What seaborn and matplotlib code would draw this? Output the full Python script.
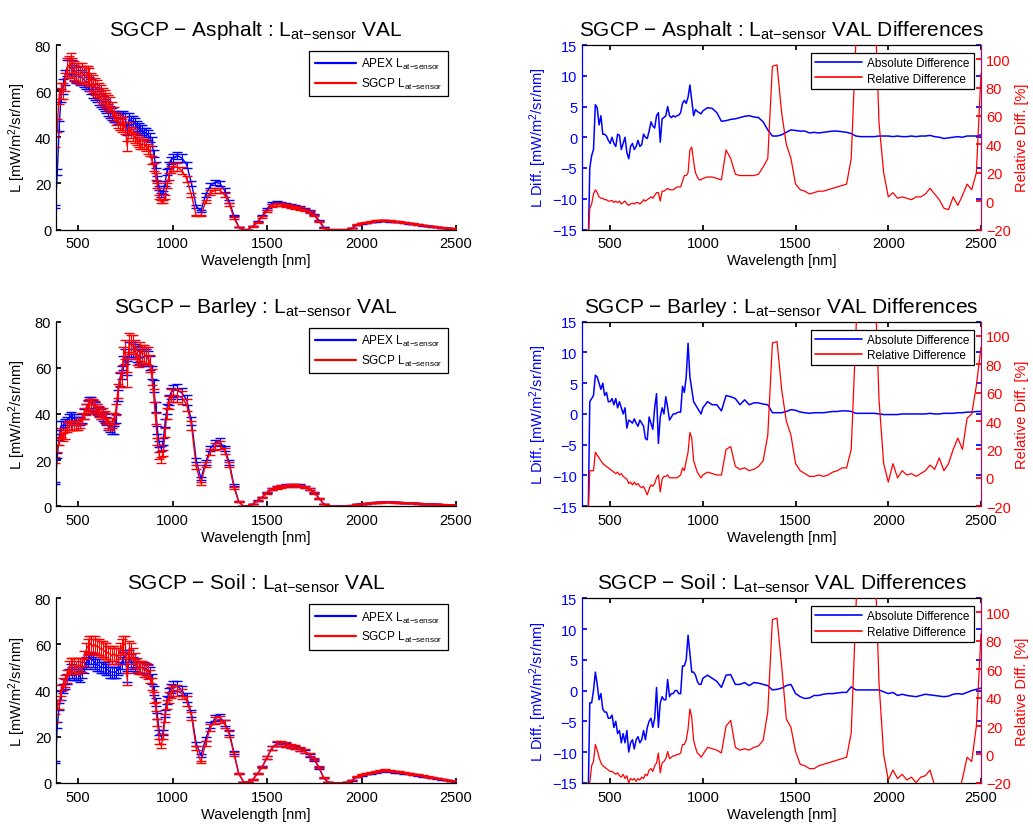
import numpy as np
import pandas as pd
import matplotlib
matplotlib.use("Agg")
import matplotlib.pyplot as plt
from matplotlib.lines import Line2D
import seaborn as sns

# ---------------- data ----------------
wavelength = [
    380, 390, 400, 410, 420, 430, 440, 450, 460, 470,
    480, 490, 500, 510, 520, 530, 540, 550, 560, 570,
    580, 590, 600, 610, 620, 630, 640, 650, 660, 670,
    680, 690, 700, 710, 720, 730, 740, 750, 760, 770,
    780, 790, 800, 810, 820, 830, 840, 850, 860, 870,
    880, 890, 900, 910, 920, 930, 940, 950, 960, 970,
    980, 990, 1000,
    1025, 1050, 1075, 1100, 1125, 1150, 1175, 1200, 1225, 1250,
    1275, 1300, 1325, 1350, 1375, 1400, 1425, 1450, 1475, 1500,
    1525, 1550, 1575, 1600, 1625, 1650, 1675, 1700, 1725, 1750,
    1775, 1800, 1825, 1850, 1875, 1900, 1925, 1950, 1975, 2000,
    2025, 2050, 2075, 2100, 2125, 2150, 2175, 2200, 2225, 2250,
    2275, 2300, 2325, 2350, 2375, 2400, 2425, 2450, 2475, 2500,
]

asphalt_apex = [
    10, 25, 45, 58, 62, 66, 70, 71, 70, 70,
    68, 67, 67, 66, 66, 65, 64, 64, 63, 62,
    60, 59, 58, 57, 56, 55, 54, 53, 52, 51,
    50, 49, 49, 48, 48, 48, 49, 48, 43, 48,
    47, 47, 46, 45, 44, 43, 43, 42, 42, 41,
    40, 38, 33, 28, 22, 18, 15, 16, 20, 25,
    28, 30, 31,
    32, 31, 28, 20, 10, 8, 15, 19, 20.5, 20,
    17, 12, 6, 1, 0, 0, 1.5, 3.5, 6, 9,
    11.5, 11.8, 11.5, 11, 10.5, 10, 9.5, 9, 8, 6.5,
    4, 1, 0, 0, 0, 0, 0, 0.5, 2, 2.5,
    2.8, 3.2, 3.5, 3.7, 3.8, 3.6, 3.4, 3.2, 3.0, 2.7,
    2.4, 2.1, 1.8, 1.5, 1.3, 1.0, 0.8, 0.6, 0.4, 0.3,
]
asphalt_sgcp = [
    38, 45, 58, 60, 60, 64, 70, 71, 72, 70,
    69, 68, 68, 67, 68, 67, 67, 67, 66, 64,
    63, 62, 61, 60, 59, 58, 57, 56, 55, 54,
    52, 50, 48, 47, 46, 45, 46, 44, 36, 44,
    42, 41, 40, 39, 38, 37, 37, 37, 36, 35,
    34, 30, 27, 23, 19, 14, 12, 12, 14, 19,
    23, 26, 27,
    27, 25.5, 22, 15, 6, 6, 12, 16, 17, 17,
    15, 11, 5, 1, 0, 0, 1.3, 3, 5.5, 8,
    10.5, 11, 10.8, 10.5, 10, 9.5, 9, 8.5, 7.5, 6,
    3.5, 0.8, 0, 0, 0, 0, 0, 0.8, 2.3, 2.8,
    3.1, 3.5, 3.8, 4.0, 4.0, 3.8, 3.6, 3.3, 3.1, 2.8,
    2.5, 2.2, 1.9, 1.6, 1.4, 1.1, 0.9, 0.7, 0.5, 0.3,
]
asphalt_abs = [
    -20, -5, -3, -2, 5.3, 4.8, 2, 3.5, 0.5, 0.5,
    0.2, -0.5, -1, 0, -1, -1.5, 0.5, 0.3, -2, -1,
    0, -2.5, -3.5, -1.5, -1, -2, -1.5, -0.5, -1.5, -1.2,
    0.5, 0, -0.2, 1, 2.5, 1.8, 1.5, 3.5, 4, -0.8,
    3, 3.2, 3.5, 5, 3.5, 3.2, 3.5, 3.3, 3.5, 3.6,
    4, 5.5, 6, 5.5, 6.5, 8.5, 6, 3.5, 4.5, 4.2,
    4, 3.8, 4.3,
    4.8, 4.7, 4, 2.6, 2.7, 2.9, 3, 3.2, 3.4, 3.5,
    3.3, 3.2, 2.5, 1.2, 0.2, 0.2, 0.4, 0.8, 1.2, 1.1,
    1.0, 1.0, 0.7, 0.8, 0.7, 0.8, 0.9, 1.0, 1.0, 0.9,
    0.8, 0.6, 0.2, 0.1, 0.1, 0.1, 0.1, 0.2, 0.2, 0.2,
    0.1, 0.2, 0.1, 0.1, 0.2, 0.1, 0.2, 0.2, 0.3, 0.1,
    0.0, -0.2, -0.1, 0.0, 0.1, 0.0, 0.2, 0.2, 0.2, 0.4,
]
asphalt_rel = [
    -30, -5, -2, 5, 8, 6, 3, 2, 2, 1,
    1, 0, 0, 0.5, -1, 0, -1, 0, -2, -1,
    0, -2, -3, -2, -1.5, -2, -1, -1, -2, -1,
    1, 0, 1, 2, 3, 2, 4, 6, 6, 0,
    7, 7, 8, 9, 8, 8, 8, 9, 10, 10,
    10, 14, 18, 18, 20, 36, 38, 28, 20, 17,
    15, 15, 16,
    17, 17, 16, 15, 36, 30, 19, 18, 18, 18,
    18, 19, 24, 30, 95, 96, 62, 40, 30, 12,
    8, 7, 5, 6, 7, 7, 8, 9, 10, 11,
    12, 30, 112, 200, 250, 250, 150, 55, 20, 3,
    6, 2, 3, 2, 1, 3, 3, 5, 9, 5,
    1, -5, -6, 3, -3, 4, 12, 8, 20, 90,
]

barley_apex = [
    10, 22, 30, 35, 35, 36, 37, 38, 39, 38,
    38, 37, 37, 37, 38, 40, 42, 44, 45, 45,
    44, 43, 42, 41, 40, 39, 38, 37, 35, 34,
    33, 33, 38, 48, 55, 58, 62, 65, 60, 68,
    68, 68, 67, 66, 65, 65, 64, 65, 65, 64,
    62, 58, 52, 43, 33, 27, 25, 28, 36, 42,
    46, 49, 50,
    50.5, 49, 46, 37, 20, 12, 19, 25, 27.5, 28,
    25, 19, 9, 2, 0, 0, 1, 2.5, 4, 6,
    7.5, 8.3, 8.7, 9, 9.2, 9.2, 9, 8.5, 7.5, 6,
    3.5, 1, 0, 0, 0, 0, 0, 0.3, 0.8, 1.0,
    1.2, 1.4, 1.6, 1.7, 1.8, 1.8, 1.7, 1.6, 1.5, 1.4,
    1.3, 1.2, 1.1, 1.0, 0.9, 0.8, 0.7, 0.6, 0.5, 0.4,
]
barley_sgcp = [
    20, 25, 28, 32, 30, 31, 34, 35, 35, 35,
    35, 35, 35, 36, 38, 40, 42, 43, 44, 44,
    44, 43, 42, 41, 40, 40, 39, 38, 36, 35,
    36, 38, 42, 50, 55, 55, 65, 68, 55, 71,
    70, 70, 68, 65, 64, 67, 66, 66, 65, 65,
    62, 56, 48, 38, 28, 22, 20, 23, 32, 40,
    45, 48, 48,
    48, 47, 44, 35, 17, 10, 18, 23.5, 26, 26.5,
    24, 18, 8, 2, 0, 0, 0.9, 2.3, 3.8, 5.8,
    7.3, 8.1, 8.5, 8.8, 9.0, 9.0, 8.8, 8.3, 7.3, 5.8,
    3.3, 1, 0, 0, 0, 0, 0, 0.3, 0.8, 1.0,
    1.2, 1.4, 1.6, 1.7, 1.8, 1.8, 1.7, 1.6, 1.5, 1.4,
    1.3, 1.2, 1.1, 1.0, 0.9, 0.8, 0.7, 0.6, 0.5, 0.4,
]
barley_abs = [
    -20, 2, 2.5, 3, 6.3, 6, 5, 4, 5, 3,
    3.5, 2, 2, 2.5, 1.5, 2.5, 1, 2, 1, 0,
    1, -2.3, -1, -1.2, -1.5, -0.8, -1.5, -2, -1, -1.5,
    -2, -4, -4.2, -0.5, -1.5, -2.5, 1, 3.3, -4.8, -0.5,
    1, 0, 2.8, 1, -1, -0.5, 0, 0, 0.2, 0.3,
    0.3, 4.5, 3.5, 6, 11.5, 6, 4, 2, 1.5, 1,
    0.5, 0, 1,
    2, 1.5, 1.5, 0.5, 3, 2.8, 2.5, 1.5, 2.3, 1.5,
    1.8, 1.8, 1.6, 1.5, 0.2, 0.2, 0.2, 0.4, 0.7, 0.6,
    0.3, 0.2, 0.1, 0.2, 0.2, 0.2, 0.3, 0.4, 0.4, 0.5,
    0.5, 0.4, 0.1, 0.1, 0.1, 0.1, 0.1, 0.0, -0.1, -0.1,
    -0.1, -0.1, 0.0, 0.0, 0.0, 0.0, 0.0, 0.0, 0.1, 0.0,
    0.0, 0.1, 0.1, 0.1, 0.2, 0.2, 0.3, 0.3, 0.4, 0.4,
]
barley_rel = [
    -30, 5, 5, 5, 18, 16, 14, 12, 10, 9,
    8, 7, 6, 5, 4, 3, 4, 2, 3, 1,
    0, -1, -4, -3, -5, -3, -5, -4, -6, -7,
    -6, -9, -12, -8, -5, -6, -4, 0, 2, -10,
    -1, 1, 1, 2, 0, 0, 0, 0, 0, 1,
    2, 7, 5, 12, 18, 32, 28, 12, 8, 4,
    2, 0, 2,
    4, 3, 2, 2, 20, 22, 8, 6, 7, 5,
    6, 8, 12, 30, 95, 96, 62, 40, 30, 10,
    5, 3, 1, 1, 2, 1, 2, 4, 5, 7,
    7, 20, 100, 200, 250, 220, 150, 55, 10, -3,
    10, 0, 5, 2, 3, 1, 3, 5, 9, 6,
    14, 5, 10, 20, 28, 20, 42, 45, 65, 92,
]

soil_apex = [
    9, 25, 33, 38, 41, 43, 45, 47, 49, 48,
    47, 47, 47, 46, 48, 50, 52, 53, 54, 54,
    53, 52, 51, 51, 50, 50, 50, 49, 49, 48,
    48, 48, 48, 49, 50, 52, 54, 55, 46, 55,
    53, 52, 51, 50, 50, 50, 50, 50, 49, 49,
    48, 45, 40, 35, 29, 22, 20, 22, 30, 36,
    39, 41, 42,
    42, 40, 37, 30, 17, 12, 19, 25, 28, 28.5,
    26, 22, 13, 4, 0.5, 0.2, 1.5, 4, 7, 11,
    15, 16.8, 16.7, 16.3, 15.8, 15.3, 14.5, 13.5, 12, 10,
    6.5, 2, 0.2, 0, 0, 0, 0.2, 1, 2.5, 3.2,
    3.8, 4.2, 4.6, 5.0, 5.2, 5.0, 4.7, 4.5, 4.2, 3.9,
    3.5, 3.2, 2.8, 2.5, 2.1, 1.8, 1.4, 1.1, 0.8, 0.5,
]
soil_sgcp = [
    28, 34, 34, 40, 43, 44, 46, 50, 51, 51,
    51, 50, 51, 51, 51, 54, 57, 59, 60, 60,
    59, 60, 59, 59, 58, 58, 57, 57, 56, 56,
    55, 56, 55, 55, 57, 59, 60, 60, 45, 58,
    57, 55, 53, 51, 50, 50, 50, 49, 49, 48,
    46, 43, 37, 33, 26, 18, 16, 20, 28, 34,
    37, 39, 40,
    40, 38.5, 35.5, 29, 15, 9, 17, 24, 27, 27.5,
    25.5, 21, 12.5, 4, 0.5, 0.2, 1.5, 4, 7, 11,
    15, 17, 16.9, 16.5, 16, 15.6, 14.8, 13.8, 12.3, 10.3,
    6.8, 2.2, 0.2, 0, 0, 0, 0.2, 1.2, 2.8, 3.5,
    4.1, 4.5, 4.9, 5.3, 5.5, 5.3, 5.0, 4.8, 4.5, 4.2,
    3.8, 3.5, 3.1, 2.8, 2.4, 2.0, 1.6, 1.3, 0.9, 0.6,
]
soil_abs = [
    -20, -2, -2, 0, 3, 1, -1.5, -0.5, -3, -3.5,
    -3.5, -4.5, -4.5, -4, -6, -5, -7, -6.5, -8.5, -7,
    -8.5, -6.5, -10, -8.5, -8, -9.5, -8, -7.5, -8.5, -8,
    -6.5, -8, -6, -5, -4.5, -6, -4.5, 0.5, -6, -2,
    -1, -1.5, -1.5, 1.8, -1, -0.5, -0.5, 0, 0, -0.5,
    -0.5, 4, 4, 5, 9, 6, 3, 3, 2.5, 1.5,
    1, 1, 2,
    2.5, 2, 1.5, 0.5, 2.5, 2.6, 1, 1, 1.3, 0.8,
    1.3, 1.2, 1, 0.8, 0.1, 0.2, 0.4, 0.8, 1.0, -0.5,
    -1, -1.3, -1.2, -0.8, -0.8, -0.6, -0.5, -0.5, -0.4, -0.3,
    -0.3, 0.6, 0.1, 0.1, 0.1, 0.1, 0.1, 0.1, -0.2, -0.5,
    -0.3, -0.8, -0.6, -0.8, -0.9, -1.0, -0.8, -0.6, -0.7, -0.8,
    -0.9, -1.0, -0.9, -0.6, -0.5, -0.6, -0.3, 0.0, 0.2, 0.4,
]
soil_rel = [
    -30, -20, -8, -5, 7, 3, -2, -6, -8, -9,
    -10, -11, -12, -12, -13, -14, -13, -15, -16, -14,
    -17, -15, -20, -17, -18, -17, -19, -17, -18, -16,
    -17, -14, -15, -11, -10, -12, -8, -6, 1, -13,
    -6, -5, -3, 2, -3, -2, -1, -1, 0, 0,
    1, 7, 7, 10, 18, 32, 26, 10, 5, 1,
    0, -2, 0,
    5, 4, 3, 1, 20, 24, 5, 3, 4, 3,
    5, 6, 10, 30, 95, 96, 62, 25, 19, 2,
    -7, -8, -10, -10, -8, -7, -6, -5, -4, -3,
    -2, 15, 100, 200, 250, 220, 150, 50, 0, -18,
    -11, -17, -14, -18, -16, -20, -16, -15, -11, -22,
    -30, -30, -30, -30, -30, -17, -2, -5, 20, 85,
]

scene_names = ["Asphalt", "Barley", "Soil"]
apex_series = [asphalt_apex, barley_apex, soil_apex]
sgcp_series = [asphalt_sgcp, barley_sgcp, soil_sgcp]
abs_series = [asphalt_abs, barley_abs, soil_abs]
rel_series = [asphalt_rel, barley_rel, soil_rel]
apex_rel_uncertainty = 0.05
sgcp_rel_uncertainty = 0.06

# ---------------- style ----------------
sns.set_theme(style="ticks")
plt.rcParams["font.family"] = ["Liberation Sans", "DejaVu Sans"]
plt.rcParams["mathtext.fontset"] = "custom"
plt.rcParams["mathtext.rm"] = "Liberation Sans"
plt.rcParams["mathtext.it"] = "Liberation Sans:italic"
plt.rcParams["xtick.direction"] = "in"
plt.rcParams["ytick.direction"] = "in"
plt.rcParams["xtick.major.size"] = 3.5
plt.rcParams["ytick.major.size"] = 3.5
plt.rcParams["xtick.major.pad"] = 5
plt.rcParams["axes.linewidth"] = 0.9
plt.rcParams["text.color"] = "black"
plt.rcParams["axes.labelcolor"] = "black"
plt.rcParams["axes.edgecolor"] = "black"
plt.rcParams["xtick.color"] = "black"
plt.rcParams["ytick.color"] = "black"

BLUE = (0, 0, 1)
RED = (1, 0, 0)
SUB = r"L$_{\mathrm{at{-}sensor}}$"

fig = plt.figure(figsize=(10.33, 8.29), dpi=100)

W = 1033.0
H = 829.0
row_tops = [46, 322.7, 599.3]
ax_h = 184.5

for i, name in enumerate(scene_names):
    df = pd.DataFrame({
        "wavelength": wavelength,
        "apex": apex_series[i],
        "sgcp": sgcp_series[i],
        "absdiff": abs_series[i],
        "reldiff": rel_series[i],
    })
    bottom = 1 - (row_tops[i] + ax_h) / H

    # ---------- left panel ----------
    axl = fig.add_axes([56 / W, bottom, 400 / W, ax_h / H])
    axl.errorbar(df["wavelength"], df["apex"], yerr=df["apex"] * apex_rel_uncertainty,
                 fmt="none", ecolor=BLUE, elinewidth=0.8, capsize=3.6, capthick=1.0)
    sns.lineplot(data=df, x="wavelength", y="apex", ax=axl, color=BLUE, lw=1.0)
    axl.errorbar(df["wavelength"], df["sgcp"], yerr=df["sgcp"] * sgcp_rel_uncertainty,
                 fmt="none", ecolor=RED, elinewidth=0.8, capsize=3.6, capthick=1.0)
    sns.lineplot(data=df, x="wavelength", y="sgcp", ax=axl, color=RED, lw=1.0)
    axl.set_xlim(383, 2500)
    axl.set_ylim(0, 80)
    axl.set_xticks([500, 1000, 1500, 2000, 2500])
    axl.set_yticks([0, 20, 40, 60, 80])
    axl.tick_params(labelsize=10.5, colors="black")
    axl.set_xlabel("Wavelength [nm]", fontsize=10.5, labelpad=2)
    axl.set_ylabel(r"L [mW/m$^2$/sr/nm]", fontsize=10.5, labelpad=5)
    axl.set_title(f"SGCP − {name} : {SUB} VAL", fontsize=15, pad=7, color="black")
    for s in ["top", "right"]:
        axl.spines[s].set_visible(False)
    for s in ["left", "bottom"]:
        axl.spines[s].set_color("black")
    handles = [Line2D([], [], color=BLUE, lw=1.6), Line2D([], [], color=RED, lw=1.6)]
    leg = axl.legend(handles, [f"APEX {SUB}", f"SGCP {SUB}"], loc="upper right",
                     bbox_to_anchor=(0.98, 0.968), borderaxespad=0, fontsize=8.5,
                     frameon=True, fancybox=False, framealpha=1, edgecolor="black",
                     handlelength=3.5, handletextpad=0.45, labelspacing=0.4,
                     borderpad=0.45)
    leg.get_frame().set_linewidth(0.9)

    # ---------- right panel ----------
    axr = fig.add_axes([582 / W, bottom, 399 / W, ax_h / H])
    axr2 = axr.twinx()
    sns.lineplot(data=df, x="wavelength", y="absdiff", ax=axr, color=BLUE, lw=1.1)
    sns.lineplot(data=df, x="wavelength", y="reldiff", ax=axr2, color=RED, lw=0.9)
    axr.set_xlim(348, 2500)
    axr.set_ylim(-15, 15)
    axr2.set_ylim(-20, 110)
    axr.set_xticks([500, 1000, 1500, 2000, 2500])
    axr.set_yticks([-15, -10, -5, 0, 5, 10, 15])
    axr2.set_yticks([-20, 0, 20, 40, 60, 80, 100])
    axr.tick_params(axis="x", labelsize=10.5, colors="black", top=True)
    axr.tick_params(axis="y", labelsize=10.5, colors=BLUE, right=True, left=True)
    axr2.tick_params(axis="y", labelsize=10.5, colors=RED, right=True)
    axr.set_xlabel("Wavelength [nm]", fontsize=10.5, labelpad=2)
    axr.set_ylabel(r"L Diff. [mW/m$^2$/sr/nm]", fontsize=10.5, color=BLUE, labelpad=2)
    axr2.set_ylabel("Relative Diff. [%]", fontsize=10.5, color=RED, labelpad=3)
    axr.set_title(f"SGCP − {name} : {SUB} VAL Differences", fontsize=15, pad=7,
                  color="black")
    axr.spines["left"].set_color(BLUE)
    axr.spines["right"].set_visible(False)
    axr.spines["top"].set_color("black")
    axr.spines["bottom"].set_color("black")
    for s in ["left", "top", "bottom"]:
        axr2.spines[s].set_visible(False)
    axr2.spines["right"].set_color("#a0106a")
    axr2.set_xlim(348, 2500)

    handles = [Line2D([], [], color=BLUE, lw=1.2), Line2D([], [], color=RED, lw=1.2)]
    leg2 = axr2.legend(handles, ["Absolute Difference", "Relative Difference"],
                       loc="upper right", bbox_to_anchor=(0.982, 0.957), borderaxespad=0,
                       fontsize=8.5, frameon=True, fancybox=False, framealpha=1,
                       edgecolor="black", handlelength=4.0, handletextpad=0.45,
                       labelspacing=0.3, borderpad=0.35)
    leg2.get_frame().set_linewidth(0.9)

fig.savefig("out.png", dpi=100)
